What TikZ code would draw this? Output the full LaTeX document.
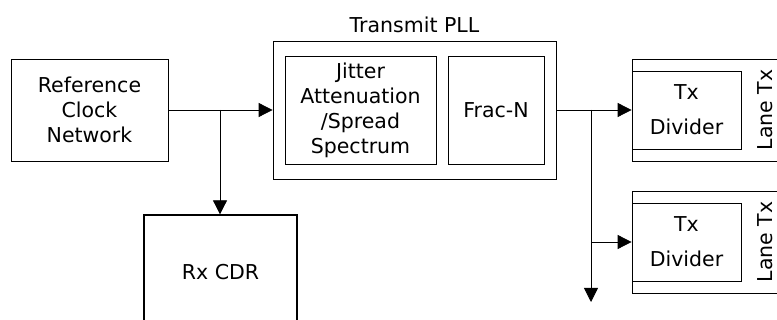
\documentclass[tikz,border=0pt]{standalone}
\usepackage{fontspec}
\setmainfont{DejaVu Sans}
\usetikzlibrary{arrows.meta, positioning, calc}

\tikzset{
  blk/.style={draw, line width=0.8pt, inner sep=0pt, align=center,
    font=\fontsize{20.5pt}{25pt}\selectfont},
  arr/.style={line width=0.8pt, -{Triangle[length=14pt,width=14pt]}},
}

\begin{document}
\begin{tikzpicture}[x=1pt, y=-1pt]
  \useasboundingbox (0,0) rectangle (777,320);
  \clip (0,0) rectangle (777,320);

  % Reference clock
  \node[blk, minimum width=157pt, minimum height=102pt] (refclk) at (89.5,110)
    {Reference\\Clock\\Network};

  % Transmit PLL
  \node[blk, minimum width=283pt, minimum height=138pt] (pll) at (414.5,110) {};
  \node[font=\fontsize{20.5pt}{25pt}\selectfont, above=4pt of pll] (plllbl) {Transmit PLL};
  \node[blk, minimum width=151pt, minimum height=108pt] (jitter) at (360.5,110)
    {Jitter\\Attenuation\\/Spread\\Spectrum};
  \node[blk, minimum width=96pt, minimum height=108pt] (fracn) at (496,110) {Frac-N};

  % Rx CDR
  \node[blk, line width=1.3pt, minimum width=153pt, minimum height=160pt] (rxcdr) at (220.5,295) {};
  \node[font=\fontsize{20.5pt}{25pt}\selectfont] (rxlbl) at (220.5,272) {Rx CDR};

  % Lanes
  \node[blk, minimum width=168pt, minimum height=102pt] (lane1) at (716,110) {};
  \node[blk, minimum width=109pt, minimum height=78pt] (div1) at (686.5,110) {Tx\\[10pt]Divider};
  \node[font=\fontsize{20.5pt}{25pt}\selectfont, rotate=90] (lane1lbl) at (765,110) {Lane Tx};
  \node[blk, minimum width=168pt, minimum height=102pt] (lane2) at (716,242) {};
  \node[blk, minimum width=109pt, minimum height=78pt] (div2) at (686.5,242) {Tx\\[10pt]Divider};
  \node[font=\fontsize{20.5pt}{25pt}\selectfont, rotate=90] (lane2lbl) at (765,242) {Lane Tx};

  % Connectors
  \coordinate (j1) at (220,110);
  \coordinate (j2) at (591,110);
  \coordinate (out) at (591,302);
  \draw[arr] (refclk.east) -- (pll.west);
  \draw[arr] (j1) -- (j1 |- rxcdr.north);
  \draw[arr] (pll.east) -- (div1.west);
  \draw[arr] (j2) |- (div2.west);
  \draw[arr] (j2) -- (out);
\end{tikzpicture}
\end{document}
